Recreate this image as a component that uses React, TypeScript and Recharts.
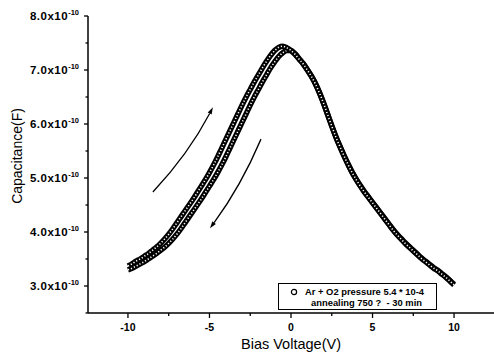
import React from 'react';
import { ComposedChart, Line, XAxis, YAxis, ReferenceLine, Legend } from 'recharts';

// bias voltage (V), sweep step 0.25 V
const volts = [
  -10, -9.75, -9.5, -9.25, -9, -8.75, -8.5, -8.25, -8, -7.75, -7.5, -7.25, -7, -6.75, -6.5, -6.25,
  -6, -5.75, -5.5, -5.25, -5, -4.75, -4.5, -4.25, -4, -3.75, -3.5, -3.25, -3, -2.75, -2.5, -2.25,
  -2, -1.75, -1.5, -1.25, -1, -0.75, -0.5, -0.25, 0, 0.25, 0.5, 0.75, 1, 1.25, 1.5, 1.75,
  2, 2.25, 2.5, 2.75, 3, 3.25, 3.5, 3.75, 4, 4.25, 4.5, 4.75, 5, 5.25, 5.5, 5.75,
  6, 6.25, 6.5, 6.75, 7, 7.25, 7.5, 7.75, 8, 8.25, 8.5, 8.75, 9, 9.25, 9.5, 9.75, 10,
];

// capacitance in units of 1e-10 F
const upSweep = [
  3.37, 3.41, 3.46, 3.5, 3.55, 3.6, 3.66, 3.72, 3.79, 3.87, 3.96, 4.06, 4.17, 4.28, 4.39, 4.5,
  4.61, 4.73, 4.85, 4.97, 5.1, 5.24, 5.39, 5.55, 5.71, 5.87, 6.03, 6.19, 6.35, 6.5, 6.64, 6.78,
  6.91, 7.04, 7.16, 7.27, 7.36, 7.42, 7.44, 7.41, 7.36, 7.29, 7.2, 7.11, 7.0, 6.88, 6.74, 6.57,
  6.38, 6.17, 5.96, 5.76, 5.58, 5.41, 5.25, 5.1, 4.97, 4.85, 4.74, 4.64, 4.54, 4.44, 4.34, 4.24,
  4.14, 4.04, 3.95, 3.87, 3.79, 3.72, 3.65, 3.58, 3.51, 3.45, 3.39, 3.33, 3.28, 3.22, 3.16, 3.09, 3.02,
];
const downSweep = [
  3.3, 3.33, 3.37, 3.41, 3.45, 3.5, 3.55, 3.6, 3.66, 3.72, 3.79, 3.87, 3.96, 4.06, 4.17, 4.28,
  4.39, 4.5, 4.61, 4.73, 4.85, 4.97, 5.1, 5.24, 5.39, 5.55, 5.71, 5.87, 6.03, 6.19, 6.35, 6.5,
  6.64, 6.78, 6.91, 7.04, 7.15, 7.25, 7.32, 7.36, 7.36, 7.3, 7.21, 7.12, 7.01, 6.89, 6.75, 6.58,
  6.39, 6.18, 5.97, 5.77, 5.59, 5.42, 5.26, 5.11, 4.98, 4.86, 4.75, 4.65, 4.55, 4.45, 4.35, 4.25,
  4.15, 4.05, 3.96, 3.88, 3.8, 3.73, 3.66, 3.59, 3.52, 3.46, 3.4, 3.34, 3.29, 3.23, 3.17, 3.1, 3.03,
];

const xTicks = [-10, -7.5, -5, -2.5, 0, 2.5, 5, 7.5, 10];
const xMajor = [-10, -5, 0, 5, 10];
const yTicks = [2.5, 3, 3.5, 4, 4.5, 5, 5.5, 6, 6.5, 7, 7.5, 8];
const yMajor = [3, 4, 5, 6, 7, 8];

// sweep direction arrows (tail -> head)
const arrowUp = [{ v: -8.47, c: 4.74 }, { v: -4.79, c: 6.31 }];
const arrowDown = [{ v: -1.84, c: 5.72 }, { v: -4.97, c: 4.07 }];

const legendLines = ['Ar + O2 pressure 5.4 * 10-4', 'annealing 750 ?  - 30 min'];

const data = volts.map((v, i) => ({ v, up: upSweep[i], down: downSweep[i] }));

const FONT = '"Liberation Sans", Arial, sans-serif';

const XTick = (p: any) => {
  const { x, y, payload } = p;
  const major = xMajor.includes(payload.value);
  return (
    <g>
      <line x1={x} x2={x} y1={y} y2={y + (major ? 5 : 3)} stroke="#000" strokeWidth={1.3} />
      {major && (
        <text x={x} y={y + 18} textAnchor="middle" fontFamily={FONT} fontWeight="bold" fontSize={10.5} fill="#000">
          {payload.value}
        </text>
      )}
    </g>
  );
};

const YTick = (p: any) => {
  const { x, y, payload } = p;
  const major = yMajor.includes(payload.value);
  return (
    <g>
      <line x1={x} x2={x - (major ? 4 : 2.5)} y1={y} y2={y} stroke="#000" strokeWidth={1.3} />
      {major && (
        <text x={x - 9} y={y + 4} textAnchor="end" fontFamily={FONT} fontWeight="bold" fontSize={11.5} letterSpacing={0.5} fill="#000">
          <tspan>{payload.value.toFixed(1)}x10</tspan>
          <tspan dy={-5} fontSize={7.5} letterSpacing={0}>-10</tspan>
        </text>
      )}
    </g>
  );
};

const arrowShape = (bend: number) => (p: any) => {
  const { x1, y1, x2, y2 } = p;
  const dx = x2 - x1;
  const dy = y2 - y1;
  const len = Math.hypot(dx, dy);
  const nx = -dy / len;
  const ny = dx / len;
  const cx = (x1 + x2) / 2 + nx * bend;
  const cy = (y1 + y2) / 2 + ny * bend;
  const tx = x2 - cx;
  const ty = y2 - cy;
  const tl = Math.hypot(tx, ty);
  const ux = tx / tl;
  const uy = ty / tl;
  const hl = 7;
  const hw = 2.2;
  const bx = x2 - ux * hl;
  const by = y2 - uy * hl;
  return (
    <g>
      <path d={`M${x1},${y1} Q${cx},${cy} ${bx},${by}`} fill="none" stroke="#000" strokeWidth={1.3} />
      <path d={`M${x2},${y2} L${bx - uy * hw},${by + ux * hw} L${bx + uy * hw},${by - ux * hw} Z`} fill="#000" />
    </g>
  );
};

const LegendBox = () => (
  <div
    style={{
      width: 159,
      height: 27,
      boxSizing: 'border-box',
      border: '1px solid #000',
      background: '#fff',
      position: 'relative',
      fontFamily: FONT,
      fontWeight: 'bold',
      fontSize: 9.4,
      color: '#000',
      lineHeight: '10px',
    }}
  >
    <svg width={10} height={10} style={{ position: 'absolute', left: 10, top: 3 }}>
      <circle cx={5} cy={5} r={2.6} fill="#fff" stroke="#000" strokeWidth={1.2} />
    </svg>
    <span style={{ position: 'absolute', left: 26, top: 3, whiteSpace: 'pre' }}>{legendLines[0]}</span>
    <span style={{ position: 'absolute', left: 32, top: 14, whiteSpace: 'pre' }}>{legendLines[1]}</span>
  </div>
);

export default function App() {
  return (
    <div style={{ position: 'absolute', left: 0, top: 0, background: '#fff' }}>
      <ComposedChart width={494} height={361} data={data} margin={{ top: 16, right: 0, bottom: 0, left: 0 }}>
        <XAxis
          type="number"
          dataKey="v"
          domain={[-12.45, 12.45]}
          ticks={xTicks}
          tick={XTick}
          tickLine={false}
          tickSize={0}
          tickMargin={0}
          height={48}
          axisLine={{ stroke: '#000', strokeWidth: 1.5 }}
          interval={0}
          label={{ value: 'Bias Voltage(V)', position: 'insideBottom', offset: 12, fill: '#000', fontSize: 14.5, fontFamily: FONT }}
        />
        <YAxis
          type="number"
          domain={[2.5, 8]}
          ticks={yTicks}
          tick={YTick}
          tickLine={false}
          tickSize={0}
          tickMargin={0}
          width={88}
          axisLine={{ stroke: '#000', strokeWidth: 1.5 }}
          interval={0}
          label={() => (
            <text
              x={17}
              y={156}
              transform="rotate(-90 17 156)"
              textAnchor="middle"
              dominantBaseline="central"
              fontFamily={FONT}
              fontSize={14}
              fill="#000"
            >
              Capacitance(F)
            </text>
          )}
        />
        <ReferenceLine segment={arrowUp.map((d) => ({ x: d.v, y: d.c }))} shape={arrowShape(7)} />
        <ReferenceLine segment={arrowDown.map((d) => ({ x: d.v, y: d.c }))} shape={arrowShape(-6)} />
        <Line type="monotone" dataKey="down" stroke="#000" strokeWidth={5.5} dot={false} isAnimationActive={false} />
        <Line type="monotone" dataKey="down" stroke="#fff" strokeWidth={1.6} strokeDasharray="1.2 2" dot={false} isAnimationActive={false} legendType="none" />
        <Line type="monotone" dataKey="up" stroke="#000" strokeWidth={5.5} dot={false} isAnimationActive={false} />
        <Line type="monotone" dataKey="up" stroke="#fff" strokeWidth={1.6} strokeDasharray="1.2 2" dot={false} isAnimationActive={false} legendType="none" />
        <Legend
          layout="horizontal"
          verticalAlign="middle"
          align="center"
          content={LegendBox}
          wrapperStyle={{ left: 278, top: 283, width: 159, height: 27 }}
        />
      </ComposedChart>
    </div>
  );
}
